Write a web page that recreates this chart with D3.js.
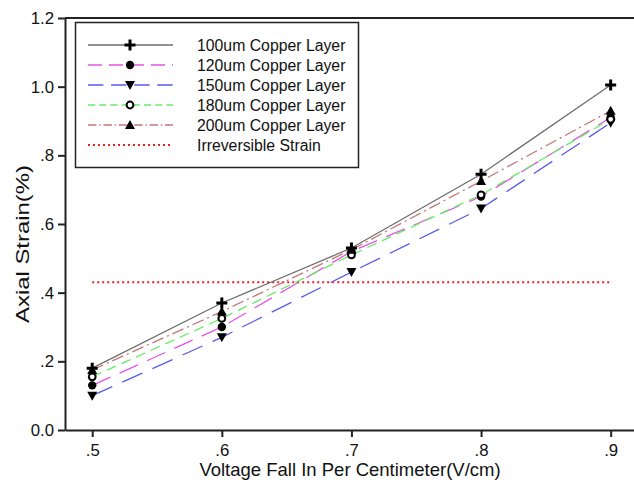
<!DOCTYPE html>
<html>
<head>
<meta charset="utf-8">
<script src="https://cdn.jsdelivr.net/npm/d3@7"></script>
<style>
  html, body { margin: 0; padding: 0; background: #fff; }
  svg { display: block; font-family: "Liberation Sans", Arial, sans-serif; }
</style>
</head>
<body>
<svg id="chart" width="634" height="488"></svg>
<script>
// Voltage fall per centimetre (V/cm)
const voltage = [0.5, 0.6, 0.7, 0.8, 0.9];

// Axial strain (%) for each copper layer thickness
const strain100 = [0.18, 0.37, 0.53, 0.745, 1.005];
const strain120 = [0.13, 0.30, 0.52, 0.68, 0.91];
const strain150 = [0.10, 0.27, 0.46, 0.645, 0.895];
const strain180 = [0.155, 0.325, 0.51, 0.685, 0.905];
const strain200 = [0.175, 0.345, 0.525, 0.725, 0.93];

// Irreversible strain threshold (%)
const irreversibleStrain = 0.43;

const seriesNames = [
  "100um Copper Layer", "120um Copper Layer", "150um Copper Layer",
  "180um Copper Layer", "200um Copper Layer"
];
const thresholdName = "Irreversible Strain";

const xTickValues = [0.5, 0.6, 0.7, 0.8, 0.9];
const xTickLabels = [".5", ".6", ".7", ".8", ".9"];
const yTickValues = [0, 0.2, 0.4, 0.6, 0.8, 1.0, 1.2];
const yTickLabels = ["0.0", ".2", ".4", ".6", ".8", "1.0", "1.2"];

const xTitle = "Voltage Fall In Per Centimeter(V/cm)";
const yTitle = "Axial Strain(%)";

// ---- styling ----
const styles = [
  { color: "#6e6e6e", dash: null,            marker: "plus" },
  { color: "#e455e4", dash: "20,10",         marker: "circle" },
  { color: "#5a5ae8", dash: "22,11",         marker: "down" },
  { color: "#66ee66", dash: "10,6",          marker: "open" },
  { color: "#c07878", dash: "12,4,2,4",      marker: "up" }
];
const seriesData = [strain100, strain120, strain150, strain180, strain200];

const svg = d3.select("#chart");

const x = d3.scaleLinear().domain([0.479, 0.918]).range([65, 634]);
const y = d3.scaleLinear().domain([0, 1.2]).range([430, 18]);

const axisColor = "#222";

// Top frame line
svg.append("line")
  .attr("x1", x.range()[0]).attr("x2", x.range()[1])
  .attr("y1", y(1.2)).attr("y2", y(1.2))
  .attr("stroke", axisColor).attr("stroke-width", 2);

// X axis
const xAxis = svg.append("g")
  .attr("transform", `translate(0,${y(0)})`)
  .call(d3.axisBottom(x)
    .tickValues(xTickValues)
    .tickFormat((d, i) => xTickLabels[i])
    .tickSize(7).tickSizeOuter(0).tickPadding(7));

// Y axis
const yAxis = svg.append("g")
  .attr("transform", `translate(${x.range()[0]},0)`)
  .call(d3.axisLeft(y)
    .tickValues(yTickValues)
    .tickFormat((d, i) => yTickLabels[i])
    .tickSize(7).tickSizeOuter(0).tickPadding(4));

[xAxis, yAxis].forEach(g => {
  g.select(".domain").attr("stroke", axisColor).attr("stroke-width", 2);
  g.selectAll(".tick line").attr("stroke", axisColor).attr("stroke-width", 2);
  g.selectAll(".tick text")
    .attr("fill", "#111")
    .style("font-size", "16.8px")
    .style("font-family", "'Liberation Sans', Arial, sans-serif");
});

// Axis titles
svg.append("text")
  .attr("x", 350).attr("y", 476)
  .attr("text-anchor", "middle")
  .attr("fill", "#111")
  .style("font-size", "18.5px")
  .text(xTitle);

svg.append("text")
  .attr("transform", `translate(29,244) rotate(-90)`)
  .attr("text-anchor", "middle")
  .attr("fill", "#111")
  .attr("textLength", 158)
  .attr("lengthAdjust", "spacingAndGlyphs")
  .style("font-size", "19px")
  .text(yTitle);

// Marker drawing
function drawMarker(g, type, cx, cy) {
  const m = g.append("g").attr("transform", `translate(${cx},${cy})`);
  if (type === "plus") {
    m.append("path").attr("d", "M-5.5,0H5.5M0,-5.5V5.5")
      .attr("stroke", "#000").attr("stroke-width", 3).attr("fill", "none");
  } else if (type === "circle") {
    m.append("circle").attr("r", 4.2).attr("fill", "#000");
  } else if (type === "open") {
    m.append("circle").attr("r", 3.4).attr("fill", "#fff")
      .attr("stroke", "#000").attr("stroke-width", 2);
  } else if (type === "down") {
    m.append("path").attr("d", "M-5,-4L5,-4L0,5Z").attr("fill", "#000");
  } else if (type === "up") {
    m.append("path").attr("d", "M-5,4L5,4L0,-5Z").attr("fill", "#000");
  }
}

const line = d3.line().x((d, i) => x(voltage[i])).y(d => y(d));

// Threshold line
svg.append("line")
  .attr("x1", x(voltage[0])).attr("x2", x(voltage[voltage.length - 1]))
  .attr("y1", y(irreversibleStrain)).attr("y2", y(irreversibleStrain))
  .attr("stroke", "#e82020").attr("stroke-width", 2)
  .attr("stroke-dasharray", "2,3");

// Series lines
seriesData.forEach((vals, k) => {
  svg.append("path")
    .datum(vals)
    .attr("d", line)
    .attr("fill", "none")
    .attr("stroke", styles[k].color)
    .attr("stroke-width", 1.3)
    .attr("stroke-dasharray", styles[k].dash);
});

// Series markers
const markerLayer = svg.append("g");
seriesData.forEach((vals, k) => {
  vals.forEach((v, i) => drawMarker(markerLayer, styles[k].marker, x(voltage[i]), y(v)));
});

// Legend
const legend = svg.append("g");
legend.append("rect")
  .attr("x", 75.5).attr("y", 22.5).attr("width", 283).attr("height", 145)
  .attr("fill", "#fff").attr("stroke", "#222").attr("stroke-width", 1.5);

const legendRows = seriesNames.map((n, k) => ({ name: n, style: styles[k] }))
  .concat([{ name: thresholdName, style: { color: "#e82020", dash: "2,3", marker: null, threshold: true } }]);

legendRows.forEach((row, i) => {
  const ly = 45 + i * 20;
  legend.append("line")
    .attr("x1", 88).attr("x2", 173).attr("y1", ly).attr("y2", ly)
    .attr("stroke", row.style.color)
    .attr("stroke-width", row.style.threshold ? 2 : 1.3)
    .attr("stroke-dasharray", row.style.threshold ? "2,3" :
      (row.style.dash ? row.style.dash.split(",").map(v => +v * 0.7).join(",") : null));
  if (row.style.marker) drawMarker(legend, row.style.marker, 130, ly);
  legend.append("text")
    .attr("x", 197).attr("y", ly + 5.5)
    .attr("fill", "#111")
    .style("font-size", "15.8px")
    .text(row.name);
});
</script>
</body>
</html>
